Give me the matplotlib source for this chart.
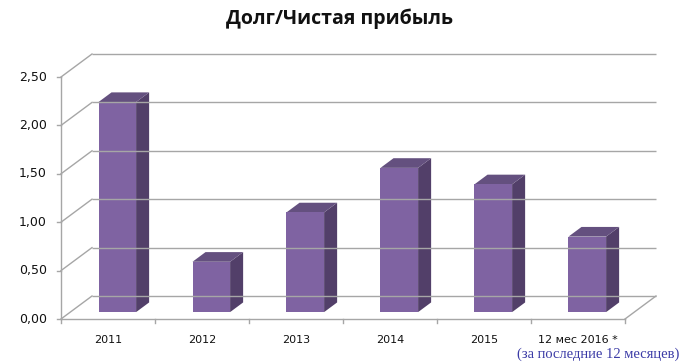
import matplotlib
matplotlib.use("Agg")
import matplotlib.pyplot as plt
from matplotlib.patches import Polygon

categories = ["2011", "2012", "2013", "2014", "2015", "12 мес 2016 *"]
values = [2.17, 0.52, 1.03, 1.49, 1.32, 0.78]
y_ticks = [0.0, 0.5, 1.0, 1.5, 2.0, 2.5]
y_tick_labels = ["0,00", "0,50", "1,00", "1,50", "2,00", "2,50"]
title = "Долг/Чистая прибыль"
note = "(за последние 12 месяцев)"

W, H = 688, 363
fig = plt.figure(figsize=(W / 100, H / 100), dpi=100)
ax = fig.add_axes([0, 0, 1, 1])
ax.set_axis_off()

# pixel geometry of the pseudo-3D plot
px_x0, px_cat = 61, 94.0       # x pixel of first category edge, px per category
px_y0, px_unit = 44, 96.8      # y pixel (from bottom) of value 0, px per unit
ax.set_xlim(-px_x0 / px_cat, (W - px_x0) / px_cat)
ax.set_ylim(-px_y0 / px_unit, (H - px_y0) / px_unit)

DX = 31 / px_cat     # depth offset in x (data units)
DY = 23 / px_unit    # depth offset in y (data units)
n = len(categories)
ymax = y_ticks[-1]

grid_c = "#a6a6a6"
lw = 1.0

# back wall gridlines and side wall diagonals
for v in y_ticks:
    ax.plot([DX, n + DX], [v + DY, v + DY], color=grid_c, lw=lw, solid_capstyle="butt")
    ax.plot([0, DX], [v, v + DY], color=grid_c, lw=lw)
# floor right edge
ax.plot([n, n + DX], [0, DY], color=grid_c, lw=lw)

# bars
d0, d1 = 0.30, 0.72
bw = 0.40
front_c, side_c, top_c = "#7f63a2", "#523f69", "#64507f"
for i, v in enumerate(values):
    cx = i + 0.5
    xl = cx - bw / 2 + d0 * DX
    xr = cx + bw / 2 + d0 * DX
    yb = d0 * DY
    yt = v + d0 * DY
    ddx = (d1 - d0) * DX
    ddy = (d1 - d0) * DY
    ax.add_patch(Polygon([(xr, yb), (xr + ddx, yb + ddy), (xr + ddx, yt + ddy), (xr, yt)],
                         closed=True, facecolor=side_c, edgecolor="none"))
    ax.add_patch(Polygon([(xl, yt), (xr, yt), (xr + ddx, yt + ddy), (xl + ddx, yt + ddy)],
                         closed=True, facecolor=top_c, edgecolor="none"))
    ax.add_patch(Polygon([(xl, yb), (xr, yb), (xr, yt), (xl, yt)],
                         closed=True, facecolor=front_c, edgecolor="none"))

# front axes
ax.plot([0, 0], [0, ymax], color=grid_c, lw=lw)
ax.plot([0, n], [0, 0], color=grid_c, lw=lw)
tick_y = 4 / px_unit
tick_x = 4 / px_cat
for k in range(n + 1):
    ax.plot([k, k], [0, -tick_y], color=grid_c, lw=lw)
for v, lab in zip(y_ticks, y_tick_labels):
    ax.plot([-tick_x, 0], [v, v], color=grid_c, lw=lw)
    ax.text(-14 / px_cat, v, lab, ha="right", va="center", fontsize=9,
            family="DejaVu Sans", color="#111111")

for i, lab in enumerate(categories):
    ax.text(i + 0.5, -21 / px_unit, lab, ha="center", va="center", fontsize=8,
            family="DejaVu Sans", color="#111111")

fig.text(339 / W, 1 - 19 / H, title, ha="center", va="center", fontsize=14,
         fontweight="bold", family=["Open Sans", "DejaVu Sans"], color="#111111")
fig.text(598 / W, 1 - 354 / H, note, ha="center", va="center", fontsize=10.5,
         family=["Liberation Serif", "DejaVu Serif"], color="#3b3ba6")

fig.savefig("out.png", dpi=100)
